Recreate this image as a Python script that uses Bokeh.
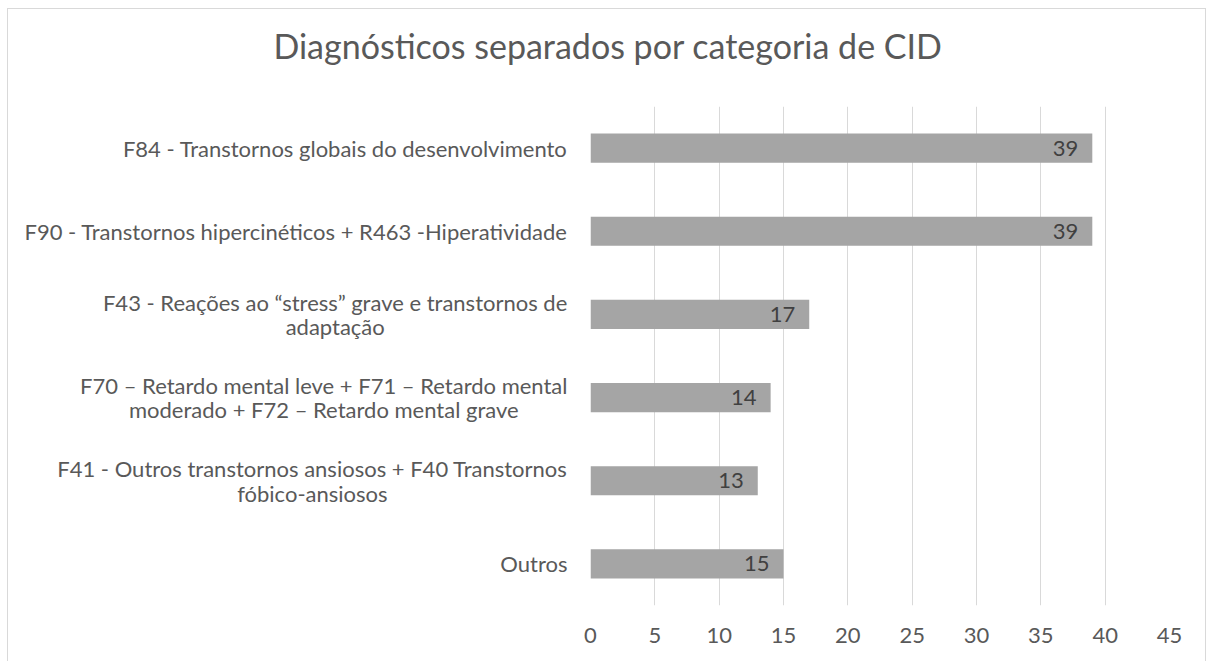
from bokeh.plotting import figure
from bokeh.models import ColumnDataSource, FactorRange, Range1d, FixedTicker
from bokeh.core.properties import value
from bokeh.embed import file_html
from bokeh.resources import INLINE

categories = [
    "F84 - Transtornos globais do desenvolvimento",
    "F90 - Transtornos hipercinéticos + R463 -Hiperatividade",
    "F43 - Reações ao \u201cstress\u201d grave e transtornos de\nadaptação",
    "F70 \u2013 Retardo mental leve + F71 \u2013 Retardo mental\nmoderado + F72 \u2013 Retardo mental grave",
    "F41 - Outros transtornos ansiosos + F40 Transtornos\nfóbico-ansiosos",
    "Outros",
]
values = [39, 39, 17, 14, 13, 15]
x_ticks = [0, 5, 10, 15, 20, 25, 30, 35, 40, 45]
title_text = "Diagnósticos separados por categoria de CID"

FONT = "Lato"
GRAY_TEXT = "#595959"
GRID = "#d9d9d9"

W, H = 1199, 653
LEFT, RIGHT, TOP, BOTTOM = 582, 38, 97, 57

src = ColumnDataSource(dict(cat=categories, val=values, lab=[str(v) for v in values],
                            base=[0] * len(values)))

p = figure(
    width=W, height=H,
    y_range=FactorRange(factors=list(reversed(categories))),
    x_range=Range1d(x_ticks[0], x_ticks[-1]),
    output_backend="svg", toolbar_location=None,
    min_border_left=LEFT, min_border_right=RIGHT,
    min_border_bottom=BOTTOM, min_border_top=TOP,
)

p.hbar(y="cat", right="val", left="base", height=0.35, source=src,
       fill_color="#a5a5a5", line_color=None)
p.text(x="val", y="cat", text="lab", source=src, text_align="right",
       text_baseline="middle", x_offset=-14, text_font=value(FONT),
       text_font_size="22px", text_color="#404040")

# category labels: block right-aligned next to the axis, lines centered
p.text(x="base", y="cat", text="cat", source=src, anchor="center_right",
       text_align="center", text_baseline="middle", x_offset=-23,
       text_font=value(FONT), text_font_size="22px", text_color=GRAY_TEXT,
       text_line_height=0.91, level="overlay")

# chart title, centred over the whole chart area
band = (H - TOP - BOTTOM) / len(categories)
title_src = ColumnDataSource(dict(x=[x_ticks[0]], y=[categories[0]], t=[title_text]))
p.text(x="x", y="y", text="t", source=title_src, text_align="center",
       text_baseline="middle", x_offset=599.5 - LEFT,
       y_offset=36 - (TOP + band / 2),
       text_font=value(FONT), text_font_size="34px", text_color=GRAY_TEXT,
       level="overlay")

p.xaxis.ticker = FixedTicker(ticks=x_ticks)
p.xgrid.ticker = FixedTicker(ticks=x_ticks)
p.xgrid.grid_line_color = GRID
p.xgrid.grid_line_width = 1
p.ygrid.grid_line_color = None
p.outline_line_color = None
p.yaxis.visible = False

ax = p.xaxis[0]
ax.axis_line_color = None
ax.major_tick_line_color = None
ax.minor_tick_line_color = None
ax.major_label_text_font = FONT
ax.major_label_text_font_size = "22px"
ax.major_label_text_color = GRAY_TEXT
ax.major_label_standoff = 16

p.styles = {
    "border-top": "1px solid #d9d9d9",
    "border-left": "1px solid #d9d9d9",
    "border-right": "1px solid #d9d9d9",
    "margin-left": "7px",
    "margin-top": "8px",
}

open("out.html", "w").write(file_html(p, INLINE))
